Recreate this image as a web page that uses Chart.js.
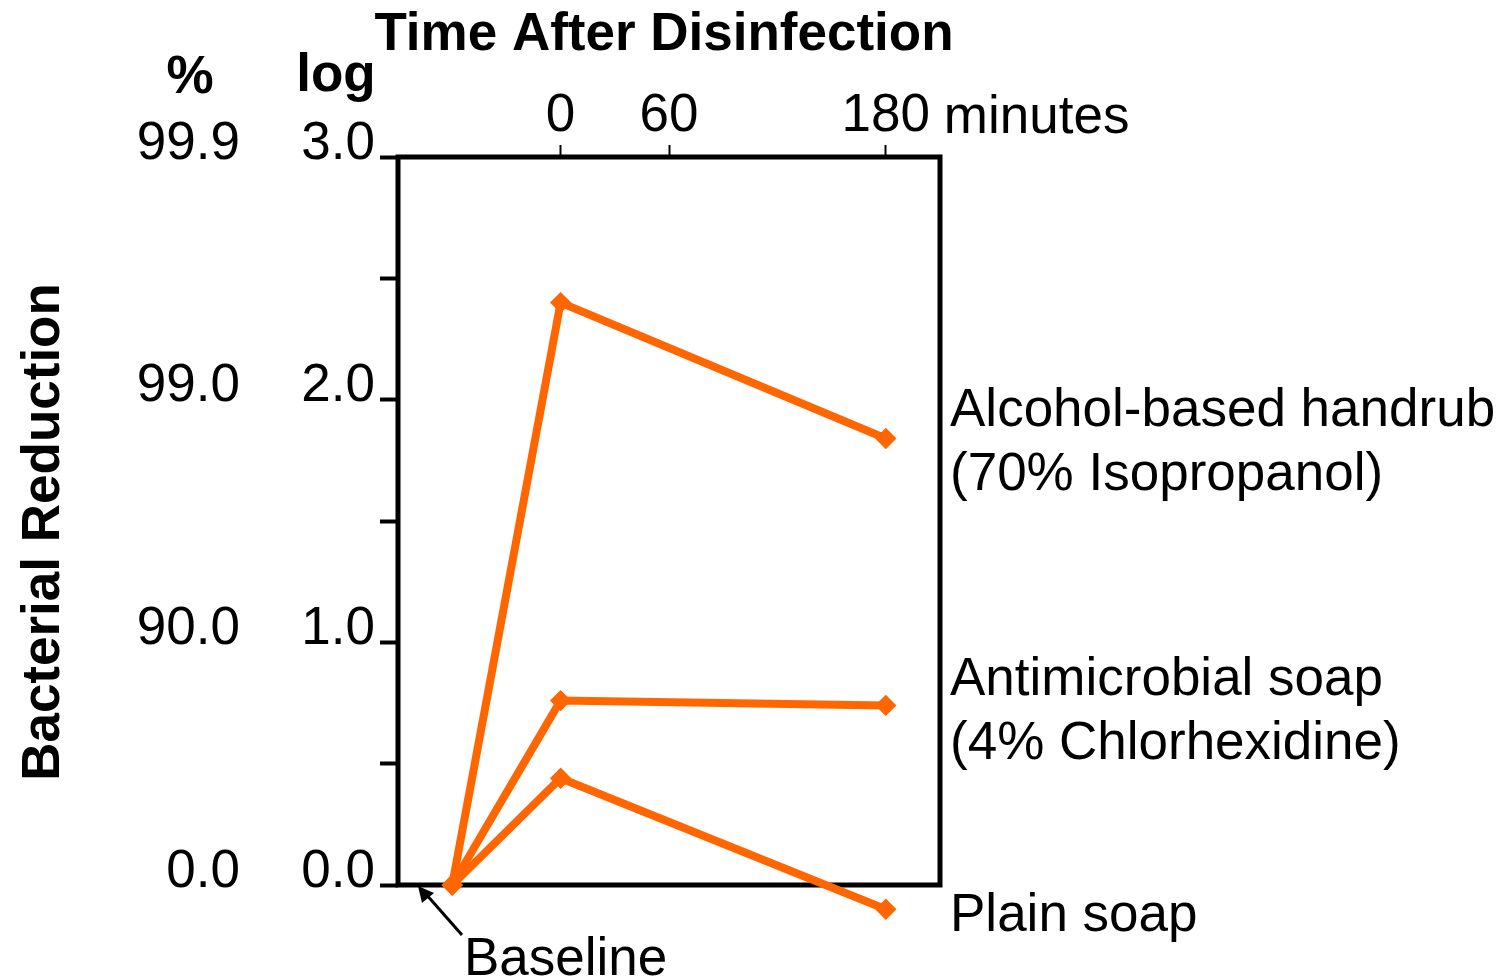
<!DOCTYPE html>
<html>
<head>
<meta charset="utf-8">
<script src="https://cdn.jsdelivr.net/npm/chart.js@4"></script>
<style>html,body{margin:0;padding:0;background:#fff}</style>
</head>
<body>
<canvas id="chart" width="1510" height="978"></canvas>
<script>
// data
const minutes = [-60, 0, 180];
const alcohol = [0, 2.40, 1.84];
const antimicrobial = [0, 0.76, 0.74];
const plainSoap = [0, 0.44, -0.10];
const timeTicks = [0, 60, 180];
const logLabels = ['0.0', '1.0', '2.0', '3.0'];
const pctLabels = ['0.0', '90.0', '99.0', '99.9'];
const seriesNames = [
    ['Alcohol-based handrub', '(70% Isopropanol)'],
    ['Antimicrobial soap', '(4% Chlorhexidine)'],
    ['Plain soap']
];

const orange = '#ff6600';
const family = "'Liberation Sans', Arial, sans-serif";
const tickFont = { family: family, size: 53 };

function series(values) {
    return minutes.map((m, i) => ({ x: m, y: values[i] }));
}
function lineSet(label, values) {
    return {
        label: label,
        data: series(values),
        borderColor: orange,
        backgroundColor: orange,
        borderWidth: 8,
        pointStyle: 'rectRot',
        pointRadius: 5,
        pointHoverRadius: 5,
        clip: false,
        tension: 0
    };
}

const extras = {
    id: 'extras',
    beforeDatasetsDraw(chart) {
        const { ctx, chartArea: a } = chart;
        ctx.save();
        ctx.strokeStyle = '#000';
        ctx.lineWidth = 5;
        ctx.strokeRect(a.left, a.top, a.right - a.left, a.bottom - a.top);
        ctx.restore();
    },
    afterDatasetsDraw(chart) {
        // markers that fall outside the plot box (plain soap at 180 min)
        chart.data.datasets.forEach((ds, i) => {
            chart.getDatasetMeta(i).data.forEach(p => {
                if (p.y > chart.chartArea.bottom) p.draw(chart.ctx);
            });
        });
    },
    afterDraw(chart) {
        const { ctx, chartArea: a, scales } = chart;
        ctx.save();
        ctx.fillStyle = '#000';
        ctx.textBaseline = 'alphabetic';

        // headers
        ctx.font = 'bold 53px ' + family;
        ctx.textAlign = 'center';
        ctx.fillText('Time After Disinfection', 664, 50);
        ctx.fillText('%', 190, 93);
        ctx.fillText('log', 336, 91);

        ctx.save();
        ctx.translate(59, 532);
        ctx.rotate(-Math.PI / 2);
        ctx.fillText('Bacterial Reduction', 0, 0);
        ctx.restore();

        // unit after the last time tick
        ctx.font = '53px ' + family;
        ctx.textAlign = 'left';
        ctx.fillText('minutes', scales.x.getPixelForValue(180) + 58, 133);

        // series labels
        const x0 = a.right + 10;
        const baseY = [426, 695, 931];
        seriesNames.forEach((lines, i) => {
            lines.forEach((t, j) => ctx.fillText(t, x0, baseY[i] + j * 64));
        });

        // baseline note + arrow
        ctx.fillText('Baseline', 464, 975);
        ctx.strokeStyle = '#000';
        ctx.lineWidth = 3;
        ctx.beginPath();
        ctx.moveTo(462, 935);
        ctx.lineTo(425, 893);
        ctx.stroke();
        ctx.beginPath();
        ctx.moveTo(418, 886);
        ctx.lineTo(422, 903);
        ctx.lineTo(434, 893);
        ctx.closePath();
        ctx.fill();
        ctx.restore();
    }
};

new Chart(document.getElementById('chart'), {
    type: 'line',
    data: {
        datasets: [
            lineSet('Alcohol-based handrub', alcohol),
            lineSet('Antimicrobial soap', antimicrobial),
            lineSet('Plain soap', plainSoap)
        ]
    },
    options: {
        responsive: false,
        animation: false,
        layout: { padding: { left: 0, top: 0, right: 570, bottom: 93 } },
        plugins: {
            legend: { display: false },
            tooltip: { enabled: false }
        },
        scales: {
            x: {
                type: 'linear',
                position: 'top',
                min: -90,
                max: 210,
                afterBuildTicks: s => { s.ticks = timeTicks.map(v => ({ value: v })); },
                afterFit: s => { s.height = 157; },
                border: { display: false },
                grid: { drawOnChartArea: false, tickLength: 12, tickWidth: 2, tickColor: '#000' },
                ticks: { font: tickFont, color: '#000', padding: -3, maxRotation: 0 }
            },
            y: {
                type: 'linear',
                position: 'left',
                weight: 0,
                min: 0,
                max: 3,
                afterFit: s => { s.width = 98; },
                border: { display: false },
                grid: { drawOnChartArea: false, tickLength: 18, tickWidth: 4, tickColor: '#000' },
                ticks: {
                    stepSize: 0.5,
                    font: tickFont,
                    color: '#000',
                    padding: 5,
                    labelOffset: -13,
                    callback: v => Number.isInteger(v) ? logLabels[v] : ''
                }
            },
            pct: {
                type: 'linear',
                position: 'left',
                weight: 10,
                min: 0,
                max: 3,
                afterBuildTicks: s => { s.ticks = pctLabels.map((t, i) => ({ value: i })); },
                afterFit: s => { s.width = 300; },
                border: { display: false },
                grid: { display: false, drawTicks: false, tickLength: 0 },
                ticks: {
                    font: tickFont,
                    color: '#000',
                    padding: 60,
                    labelOffset: -13,
                    callback: v => pctLabels[v]
                }
            }
        }
    },
    plugins: [extras]
});
</script>
</body>
</html>
